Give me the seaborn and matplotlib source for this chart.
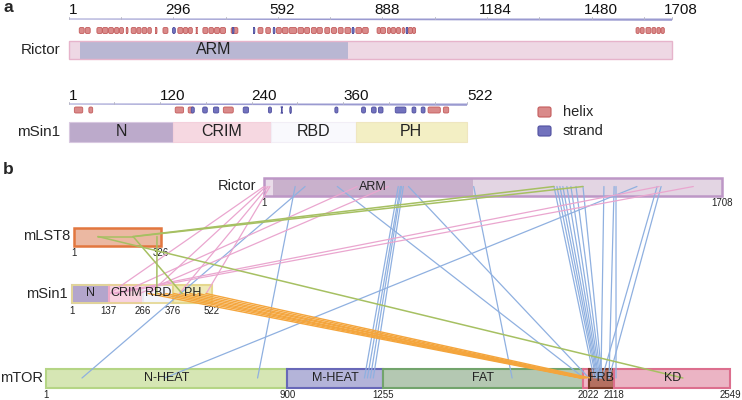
import numpy as np
import pandas as pd
import seaborn as sns
import matplotlib.pyplot as plt
from matplotlib.patches import Rectangle, FancyBboxPatch, Polygon

sns.set_style('white')
plt.rcParams['font.family'] = ['Liberation Sans', 'DejaVu Sans']

# ---------------- data ----------------
rictor_len, msin1_len, mlst8_len, mtor_len = 1708, 522, 326, 2549

# panel a domains (start, end, label)
rictor_a_domains = [(1, 32, ''), (32, 791, 'ARM'), (791, 1708, '')]
msin1_domains = [(1, 137, 'N'), (137, 266, 'CRIM'), (266, 376, 'RBD'), (376, 522, 'PH')]
# panel b domains
rictor_b_domains = [(1, 34, ''), (34, 781, 'ARM'), (781, 1708, '')]
mlst8_domains = [(1, 326, '')]
mtor_domains = [(1, 900, 'N-HEAT'), (900, 1255, 'M-HEAT'), (1255, 2000, 'FAT'),
                (2000, 2022, ''), (2022, 2118, 'FRB'), (2118, 2549, 'KD')]

rictor_ticks = [1, 296, 592, 888, 1184, 1480, 1708]
msin1_ticks = [1, 120, 240, 360, 522]

rictor_helix = [(30, 44), (47, 61), (80, 95), (96, 111), (113, 127), (130, 142), (144, 155),
                (163, 168), (177, 191), (193, 205), (208, 221), (224, 234), (246, 250),
                (267, 281), (309, 323), (325, 337), (339, 350), (361, 364), (380, 394),
                (397, 410), (413, 427), (429, 444), (460, 479), (536, 550), (558, 571),
                (588, 602), (605, 621), (624, 645), (649, 665), (668, 682), (687, 701),
                (703, 718), (725, 739), (744, 758), (763, 777), (782, 798), (813, 829),
                (832, 848), (873, 883), (883, 897), (902, 911), (913, 925), (928, 939),
                (944, 951), (961, 973), (973, 982), (1606, 1615), (1618, 1629),
                (1634, 1648), (1651, 1662), (1665, 1675), (1677, 1686)]
rictor_strand = [(294, 302), (464, 468), (523, 527), (579, 584), (802, 808), (955, 959)]

msin1_helix = [(8, 19), (27, 32), (140, 151), (157, 164), (203, 216), (471, 487), (491, 498)]
msin1_strand = [(161, 165), (176, 182), (190, 197), (229, 236), (262, 266), (279, 280),
                (290, 292), (349, 353), (384, 389), (397, 403), (406, 412), (428, 442),
                (450, 455), (462, 467)]

# crosslinks (residue on first protein, residue on second protein)
ric_mtor_ric = [154, 117, 274, 501, 509, 513, 520, 539, 1390, 1081, 1092, 1103, 1114,
                1129, 1144, 1163, 1189, 1267, 1305, 1312, 1465, 1480, 782]
ric_mtor_mtor = [135, 789, 2005, 1187, 1198, 1209, 1220, 2023, 443, 2042, 2049, 2053,
                 2057, 2060, 2064, 2068, 2072, 2068, 2098, 2124, 2072, 2098, 1737]
sin_mtor_sin = [285, 320, 350, 380, 410, 440, 470, 500]
sin_mtor_mtor = [1990, 1996, 2002, 1993, 2008, 2000, 2015, 2030]
ric_sin_ric = [1, 8, 16, 23, 348, 464, 1473, 1600]
ric_sin_sin = [142, 290, 401, 501, 179, 253, 149, 164]
lst8_mtor_lst8, lst8_mtor_mtor = [90], [2373]
lst8_ric_lst8, lst8_ric_ric = [221, 228], [1081, 1189]
lst8_sin_lst8, lst8_sin_sin = [310, 221], [317, 411]
lst8_self_a, lst8_self_b = [90], [221]

# ---------------- layout ----------------
fig = plt.figure(figsize=(7.42, 4.0), dpi=100)
ax = fig.add_axes([0, 0, 1, 1])


def pos(r, x0, s):
    return x0 + (np.asarray(r, dtype=float) - 1) * s


def draw_bar(x0, s, yc, h, domains, fills, edges, lw, outer=None, olw=1.0):
    for (a, b, lab), fc, ec in zip(domains, fills, edges):
        xa, xb = pos(a, x0, s), pos(b, x0, s)
        ax.add_patch(Rectangle((xa, yc - h / 2), xb - xa, h, fc=fc, ec=ec, lw=lw, zorder=2))
    if outer is not None:
        xa, xb = pos(1, x0, s), pos(domains[-1][1], x0, s)
        ax.add_patch(Rectangle((xa, yc - h / 2), xb - xa, h, fc='none', ec=outer,
                               lw=olw, zorder=2.5))


def domain_labels(x0, s, yc, domains, fs):
    for a, b, lab in domains:
        if lab:
            ax.text((pos(a, x0, s) + pos(b, x0, s)) / 2, yc, lab, ha='center', va='center',
                    fontsize=fs, color='#222222', zorder=6)


# ---- panel a ----
ra_x0, ra_s = 69, 0.3533
ma_x0, ma_s = 69, 0.764


def ruler(x0, s, length, y, ticks, minor, shift):
    x1 = pos(length, x0, s)
    ax.add_patch(Polygon([(x0, y - 0.5), (x1, y - 0.5), (x1, y + 1.8), (x0, y + 0.5)],
                         closed=True, fc='#9a9ad0', ec='none', zorder=2))
    for t in minor:
        ax.plot([pos(t, x0, s)] * 2, [y - 2.5, y], color='#b8b8c8', lw=0.7, zorder=2)
    for t in ticks:
        xt = pos(t, x0, s)
        ax.plot([xt, xt], [y - 2.5, y], color='#b8b8c8', lw=0.7, zorder=2)
        ax.text(xt + (shift if t > 1 else 0), y - 8.5, str(t), ha='left', va='center',
                fontsize=11, color='#111111')


ruler(ra_x0, ra_s, rictor_len, 19, rictor_ticks, [148, 444, 740, 1036, 1332, 1628], -8)
ruler(ma_x0, ma_s, msin1_len, 104, msin1_ticks, [60, 180, 300, 420, 480], 0)


def ss_boxes(x0, s, y, segs, fc, ec, h=6):
    for a, b in segs:
        xa, xb = pos(a, x0, s), pos(b, x0, s)
        ax.add_patch(FancyBboxPatch((xa, y - h / 2), max(xb - xa, 0.8), h,
                                    boxstyle='round,pad=0,rounding_size=1.5',
                                    fc=fc, ec=ec, lw=0.6, zorder=3))


helix_fc, helix_ec = '#d98a8a', '#c45c5c'
strand_fc, strand_ec = '#7272bd', '#5050a0'
ss_boxes(ra_x0, ra_s, 30.5, rictor_helix, helix_fc, helix_ec)
ss_boxes(ra_x0, ra_s, 30.5, rictor_strand, strand_fc, strand_ec)
ss_boxes(ma_x0, ma_s, 110, msin1_helix, helix_fc, helix_ec)
ss_boxes(ma_x0, ma_s, 110, msin1_strand, strand_fc, strand_ec)

draw_bar(ra_x0, ra_s, 50, 18, rictor_a_domains, ['#eed8e4', '#b9b7d3', '#eed8e4'],
         ['none'] * 3, 0, outer='#e6b4cb', olw=1.0)
domain_labels(ra_x0, ra_s, 50, rictor_a_domains, 11.5)
draw_bar(ma_x0, ma_s, 132, 20, msin1_domains, ['#bcaacb', '#f6d8e1', '#f9f9fd', '#f3efc4'],
         ['#d8c8e0', '#f4d0dc', '#f2eef6', '#efe6c0'], 0.8)
domain_labels(ma_x0, ma_s, 132, msin1_domains, 11.5)

ax.text(60, 50, 'Rictor', ha='right', va='center', fontsize=11)
ax.text(60, 132, 'mSin1', ha='right', va='center', fontsize=11)

# legend
for yy, lab, fc, ec in [(112, 'helix', helix_fc, helix_ec), (131, 'strand', strand_fc, strand_ec)]:
    ax.add_patch(FancyBboxPatch((538, yy - 5), 13, 10, boxstyle='round,pad=0,rounding_size=2',
                                fc=fc, ec=ec, lw=0.8))
    ax.text(563, yy, lab, ha='left', va='center', fontsize=10.5)

ax.text(3, 8, 'a', ha='left', va='center', fontsize=12.5, fontweight='bold')
ax.text(3, 170, 'b', ha='left', va='center', fontsize=12.5, fontweight='bold')

# ---- panel b ----
sb = 0.2685
tracks = {'Rictor': (264, 186.5), 'mLST8': (74, 236.5), 'mSin1': (72, 293.5), 'mTOR': (46, 378)}

x0, yc = tracks['Rictor']
draw_bar(x0, sb, yc, 18, rictor_b_domains, ['#e9dce9', '#c9b1cc', '#e3d5e3'],
         ['none'] * 3, 0, outer='#bd97c6', olw=1.8)
x0, yc = tracks['mLST8']
draw_bar(x0, sb, yc, 18, mlst8_domains, ['#ebb8a2'], ['#e2773f'], 1.8)
x0, yc = tracks['mSin1']
draw_bar(x0, sb, yc, 18, msin1_domains, ['#b3a5cc', '#f8d3e1', '#f4f5fb', '#f0eab8'],
         ['#c7b8dc', '#f0a9c6', '#e8e8f2', '#e3d68a'], 1.5, outer='#e6d98f', olw=1.2)
x0, yc = tracks['mTOR']
draw_bar(x0, sb, yc, 19, mtor_domains,
         ['#d6e6b4', '#b4b4d9', '#b4c8b2', '#f2b8c8', '#b47060', '#ebb4c4'],
         ['#b5d585', '#6868b8', '#72a46c', '#e0708f', '#7a3a28', '#dc6f8e'], 1.5)


# crosslinks via seaborn
def link_rows(pa, ra, pb, rb, kind, start):
    rows = []
    xa0, ya = tracks[pa]
    xb0, yb = tracks[pb]
    for i, (a, b) in enumerate(zip(ra, rb)):
        rows.append((start + i, kind, float(pos(a, xa0, sb)), ya))
        rows.append((start + i, kind, float(pos(b, xb0, sb)), yb))
    return rows


rows = []
rows += link_rows('Rictor', ric_mtor_ric, 'mTOR', ric_mtor_mtor, 'ric_mtor', 0)
rows += link_rows('mSin1', sin_mtor_sin, 'mTOR', sin_mtor_mtor, 'sin_mtor', 100)
rows += link_rows('Rictor', ric_sin_ric, 'mSin1', ric_sin_sin, 'ric_sin', 200)
rows += link_rows('mLST8', lst8_mtor_lst8, 'mTOR', lst8_mtor_mtor, 'lst8', 300)
rows += link_rows('mLST8', lst8_ric_lst8, 'Rictor', lst8_ric_ric, 'lst8', 310)
rows += link_rows('mLST8', lst8_sin_lst8, 'mSin1', lst8_sin_sin, 'lst8', 320)
rows += link_rows('mLST8', lst8_self_a, 'mLST8', lst8_self_b, 'lst8', 330)
links = pd.DataFrame(rows, columns=['link', 'kind', 'x', 'y'])

styles = {'ric_mtor': ('#8fb0e0', 0.9), 'ric_sin': ('#eaa6cf', 0.9),
          'sin_mtor': ('#f4a53c', 1.0), 'lst8': ('#a6c062', 1.1)}
for kind, (col, lw) in styles.items():
    sns.lineplot(data=links[links.kind == kind], x='x', y='y', units='link', estimator=None,
                 sort=False, color=col, lw=lw, ax=ax, zorder=4)

domain_labels(tracks['Rictor'][0], sb, tracks['Rictor'][1], rictor_b_domains, 9)
domain_labels(tracks['mSin1'][0], sb, tracks['mSin1'][1], msin1_domains, 9)
domain_labels(tracks['mTOR'][0], sb, tracks['mTOR'][1], mtor_domains, 9)

# names and residue numbers
name_x = {'Rictor': 256, 'mLST8': 70, 'mSin1': 68, 'mTOR': 43}
for name, (x0, yc) in tracks.items():
    ax.text(name_x[name], yc, name, ha='right', va='center', fontsize=10.5)

num_sets = {'Rictor': [1, 1708], 'mLST8': [1, 326], 'mSin1': [1, 137, 266, 376, 522],
            'mTOR': [1, 900, 1255, 2022, 2118, 2549]}
for name, nums in num_sets.items():
    x0, yc = tracks[name]
    for n in nums:
        ax.text(pos(n, x0, sb), yc + 12, str(n), ha='center', va='top', fontsize=7,
                color='#222222')

ax.set_xlim(0, 742)
ax.set_ylim(400, 0)
ax.axis('off')

fig.savefig('out.png', dpi=100)
